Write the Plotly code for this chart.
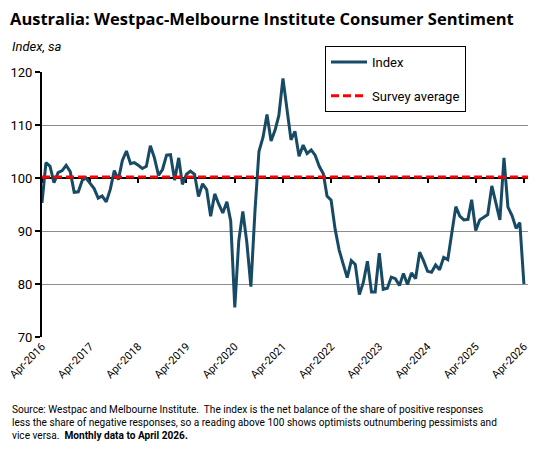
import pandas as pd
import plotly.graph_objects as go

# Westpac-MI consumer sentiment index, monthly, Apr-2016 to Apr-2026
index_values = [
    95.3, 102.9, 102.2, 99.1, 101.0, 101.4, 102.4, 101.2, 97.3,          # 2016
    97.4, 99.6, 100.0, 99.0, 98.0, 96.2, 96.6, 95.5, 97.9, 101.4, 99.7, 103.3,  # 2017
    105.1, 102.7, 102.9, 102.4, 101.8, 102.2, 106.1, 103.8, 100.5, 101.6, 104.3, 104.4,  # 2018
    99.6, 103.8, 98.8, 100.7, 101.3, 100.7, 96.5, 98.9, 97.8, 92.8, 97.0, 95.1,  # 2019
    93.4, 95.5, 91.9, 75.6, 88.1, 93.7, 87.9, 79.5, 93.8, 105.0, 107.7, 112.0,  # 2020
    107.0, 109.1, 111.8, 118.8, 113.1, 107.2, 108.8, 104.1, 106.2, 104.6, 105.3, 104.3,  # 2021
    102.2, 100.8, 96.6, 95.8, 90.4, 86.4, 83.8, 81.2, 84.4, 83.7, 78.0, 80.3,  # 2022
    84.3, 78.5, 78.5, 85.8, 79.0, 79.2, 81.3, 81.0, 79.7, 82.0, 79.9, 82.1,  # 2023
    81.0, 86.0, 84.4, 82.4, 82.2, 83.6, 82.7, 85.0, 84.6, 89.8, 94.6, 92.8,  # 2024
    92.1, 92.2, 95.9, 90.1, 92.1, 92.6, 93.1, 98.5, 95.4, 92.1, 103.8, 94.5,  # 2025
    92.9, 90.5, 91.6, 80.0,  # 2026
]
survey_average = 100.2

months = pd.date_range("2016-04-01", periods=len(index_values), freq="MS")
tick_dates = pd.date_range("2016-04-01", "2026-04-01", freq="12MS")
tick_labels = [d.strftime("%b-%Y") for d in tick_dates]

FONT = "Roboto"
LINE_COLOR = "#174B65"

fig = go.Figure()

fig.add_trace(go.Scatter(
    x=months, y=index_values, name="Index", mode="lines",
    line=dict(color=LINE_COLOR, width=3),
    legendgroup="a",
))
fig.add_trace(go.Scatter(
    x=[months[0], months[-1] + pd.DateOffset(days=31)],
    y=[survey_average, survey_average],
    name="Survey average", mode="lines", xaxis="x2",
    line=dict(color="#FF0000", width=3, dash="8px,4px"),
    legendgroup="b",
))

# page body has an 8px margin, so the figure is 8px smaller each way
fig.update_layout(
    width=540, height=446,
    margin=dict(l=34, r=20, t=64, b=117, autoexpand=False),
    paper_bgcolor="white", plot_bgcolor="white",
    font=dict(family=FONT, size=12, color="#000000"),
    showlegend=True,
    title=dict(
        text="<b>Australia: Westpac-Melbourne Institute Consumer Sentiment</b>",
        x=2 / 540, xanchor="left", y=1 - 11 / 446, yanchor="middle",
        font=dict(family="Open Sans", size=16.5, color="#000000"),
    ),
    xaxis=dict(
        range=[months[0], months[-1] + pd.DateOffset(days=31)],
        tickvals=tick_dates, ticktext=tick_labels, tickangle=-45,
        showgrid=False, zeroline=False, showline=False, ticks="",
        tickfont=dict(size=11), ticklabeloverflow="allow",
    ),
    xaxis2=dict(
        overlaying="x", matches="x", anchor="free", position=0.6,
        tickvals=tick_dates, showticklabels=False,
        ticks="outside", ticklen=4, tickwidth=2, tickcolor="black",
        showline=True, linecolor="black", linewidth=2,
        showgrid=False, zeroline=False, layer="below traces",
    ),
    yaxis=dict(
        range=[70, 120], dtick=10,
        showgrid=True, gridcolor="#8C8C8C", gridwidth=1,
        showline=True, linecolor="black", linewidth=2,
        ticks="outside", ticklen=5, tickwidth=2, tickcolor="black",
        zeroline=False, tickfont=dict(size=13),
    ),
    legend=dict(
        x=(325 - 42) / 486, y=(337 - 46) / 265, xanchor="left", yanchor="top",
        bgcolor="white", bordercolor="black", borderwidth=1,
        font=dict(size=13), itemwidth=36, tracegroupgap=14,
        entrywidth=172,
    ),
    annotations=[
        dict(
            text="<i>Index, sa</i>", xref="paper", yref="paper",
            x=-32 / 486, y=(337 - 46) / 265, xanchor="left", yanchor="middle",
            showarrow=False, font=dict(size=13),
        ),
        dict(
            text=("Source: Westpac and Melbourne Institute.  The index is the net balance of the share of positive responses<br>"
                  "less the share of negative responses, so a reading above 100 shows optimists outnumbering pessimists and<br>"
                  "vice versa.  <b>Monthly data to April 2026.</b>"),
            xref="paper", yref="paper",
            x=-32 / 486, y=(337 - 402) / 265, xanchor="left", yanchor="top",
            align="left", showarrow=False, font=dict(size=10.1),
        ),
    ],
)

fig.write_html("out.html")
